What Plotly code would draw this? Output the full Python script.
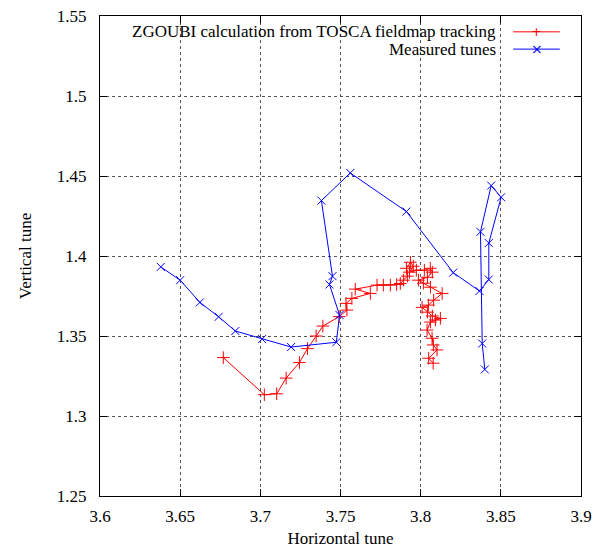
import plotly.graph_objects as go

# Measured tunes (blue)
meas_h = [3.6379, 3.6500, 3.6623, 3.6740, 3.6844, 3.7011, 3.7192, 3.7474, 3.7494,
          3.7431, 3.7450, 3.7381, 3.7561, 3.7911, 3.8203, 3.8367, 3.8425, 3.8425,
          3.8502, 3.8440, 3.8373, 3.8384, 3.8400]
meas_v = [1.3932, 1.3849, 1.3710, 1.3620, 1.3531, 1.3481, 1.3431, 1.3461, 1.3631,
          1.3822, 1.3874, 1.4346, 1.4519, 1.4278, 1.3896, 1.3781, 1.3853, 1.4081,
          1.4367, 1.4440, 1.4151, 1.3453, 1.3291]

# ZGOUBI calculation (red)
calc_h = [3.6769, 3.7025, 3.7102, 3.7161, 3.7244, 3.7294, 3.7348, 3.7390, 3.7492,
          3.7540, 3.7534, 3.7571, 3.7686, 3.7592, 3.7728, 3.7767, 3.7811, 3.7850,
          3.7873, 3.7894, 3.7917, 3.7911, 3.7936, 3.7954, 3.7930, 3.7973, 3.8023,
          3.8060, 3.8073, 3.8042, 3.7986, 3.8017, 3.8061, 3.8134, 3.8081, 3.8048,
          3.8009, 3.8042, 3.8073, 3.8123, 3.8092, 3.8061, 3.8040, 3.8071, 3.8079,
          3.8102, 3.8050, 3.8078]
calc_v = [1.3365, 1.3133, 1.3139, 1.3237, 1.3334, 1.3421, 1.3500, 1.3562, 1.3621,
          1.3662, 1.3704, 1.3735, 1.3766, 1.3793, 1.3818, 1.3818, 1.3818, 1.3822,
          1.3828, 1.3849, 1.3874, 1.3923, 1.3961, 1.3936, 1.3899, 1.3911, 1.3911,
          1.3923, 1.3899, 1.3867, 1.3849, 1.3830, 1.3805, 1.3766, 1.3724, 1.3693,
          1.3679, 1.3649, 1.3625, 1.3610, 1.3600, 1.3587, 1.3537, 1.3486, 1.3444,
          1.3413, 1.3361, 1.3330]

x_ticks = [3.6, 3.65, 3.7, 3.75, 3.8, 3.85, 3.9]
y_ticks = [1.25, 1.3, 1.35, 1.4, 1.45, 1.5, 1.55]

RED = "#ff0000"
BLUE = "#0000ff"
FONT = "Liberation Serif"
FS = 17

fig = go.Figure()
fig.add_trace(go.Scatter(
    x=calc_h, y=calc_v, mode="lines+markers",
    line=dict(color=RED, width=1),
    marker=dict(symbol="cross-thin-open", size=9, line=dict(color=RED, width=1)),
    showlegend=False))
fig.add_trace(go.Scatter(
    x=meas_h, y=meas_v, mode="lines+markers",
    line=dict(color=BLUE, width=1),
    marker=dict(symbol="x-thin-open", size=8, line=dict(color=BLUE, width=1)),
    showlegend=False))

axis_common = dict(
    showgrid=True, gridcolor="#555555", griddash="dot", gridwidth=1,
    zeroline=False, showline=True, linecolor="black", linewidth=1, mirror="allticks",
    ticks="inside", ticklen=7, tickcolor="black", automargin=False,
    tickfont=dict(family=FONT, size=FS, color="black"),
)

fig.update_layout(
    width=594, height=548,
    margin=dict(l=100, r=13, t=16, b=52),
    paper_bgcolor="white", plot_bgcolor="white",
    font=dict(family=FONT, size=FS, color="black"),
    xaxis=dict(range=[3.6, 3.9], tickvals=x_ticks, ticktext=[str(v) for v in x_ticks],
               ticklabelstandoff=5,
               title=dict(text="Horizontal tune", font=dict(family=FONT, size=FS), standoff=8),
               **axis_common),
    yaxis=dict(range=[1.25, 1.55], tickvals=y_ticks, ticktext=[str(v) for v in y_ticks],
               ticklabelstandoff=9,
               title=dict(text="Vertical tune", font=dict(family=FONT, size=FS), standoff=20),
               **axis_common),
)

# Manual gnuplot-style key (top right, text right-aligned, sample on right)
legend_items = [("ZGOUBI calculation from TOSCA fieldmap tracking", RED, "+", 0.967),
                ("Measured tunes", BLUE, "×", 0.931)]
for text, col, sym, yy in legend_items:
    fig.add_annotation(x=0.827, y=yy, xref="paper", yref="paper", text=text,
                       showarrow=False, xanchor="right", yanchor="middle",
                       font=dict(family=FONT, size=FS, color="black"))
    fig.add_shape(type="line", xref="paper", yref="paper", x0=0.859, x1=0.956, y0=yy, y1=yy,
                  line=dict(color=col, width=1))
    fig.add_annotation(x=0.908, y=yy, xref="paper", yref="paper", text=sym,
                       showarrow=False, xanchor="center", yanchor="middle",
                       font=dict(family="DejaVu Sans", size=13 if sym == "+" else 14, color=col))

fig.write_html("out.html")
